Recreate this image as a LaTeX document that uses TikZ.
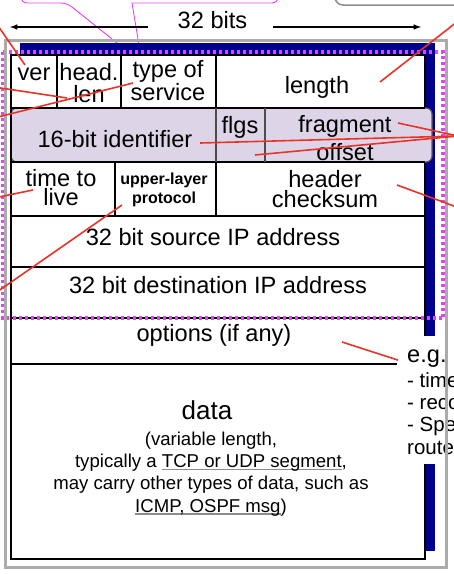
\documentclass[tikz,border=0pt]{standalone}
\usepackage{fontspec}
\setmainfont{Liberation Sans}
\usetikzlibrary{positioning}

\definecolor{navybar}{RGB}{0,0,140}
\definecolor{pinkdots}{RGB}{232,64,246}
\definecolor{callred}{RGB}{232,52,40}
\definecolor{lavrow}{RGB}{221,213,231}
\newcommand{\grayul}[1]{\setbox0\hbox{#1}\rlap{\color{black!45}\rule[-2.6pt]{\wd0}{1.2pt}}\box0}

\tikzset{
  field/.style={font=\fontsize{23.6}{#1}\selectfont, inner sep=0pt, anchor=base, align=center},
  field/.default=22,
  smallfield/.style={font=\fontsize{16}{18.5}\selectfont\bfseries, inner sep=0pt, anchor=base, align=center},
  note/.style={font=\fontsize{#1}{22.3}\selectfont, inner sep=0pt, anchor=base},
  note/.default=18.6,
  pointer/.style={callred, line width=1.6pt},
  cellline/.style={line width=2pt}
}

\begin{document}
\begin{tikzpicture}[x=1pt,y=-1pt,>=latex]
  \useasboundingbox (0,0) rectangle (454,574);
  \clip (0,0) rectangle (454,574);

  % callouts cut off at the top
  \draw[black!45, line width=1.5pt, rounded corners=8pt] (335,-30) -- (335,5) -- (480,5);
  \draw[pinkdots, line width=0.9pt] (21,-30) [rounded corners=6pt] -- (21,3) -- (67,3) [sharp corners] -- (142,63) -- (132,3) [rounded corners=6pt] -- (278,3) -- (278,-30);

  % width of a row
  \node[field] (bits) at (212.5,28) {32 bits};
  \coordinate (bitsL) at (10,27);
  \coordinate (bitsR) at (421,27);
  \draw[->, line width=1.5pt] ([xshift=-30pt,yshift=1pt]bits.base west) -- (bitsL);
  \draw[->, line width=1.5pt] ([xshift=26pt,yshift=1pt]bits.base east) -- (bitsR);

  % shadow and table
  \fill[navybar] (20,43) rectangle (435,551);
  \draw[cellline, fill=white] (11,55) rectangle (425,559);
  \draw[fill=lavrow, draw=black!65, line width=1.2pt, rounded corners=6pt] (11,108) rectangle (432,162);
  \draw[cellline] (11,55) -- (11,559);
  \draw[cellline] (11,108) -- (425,108);
  \draw[cellline] (11,162) -- (425,162);
  \draw[cellline] (11,216) -- (425,216);
  \draw[cellline] (11,267) -- (425,267);
  \draw[cellline] (11,318) -- (425,318);
  \draw[cellline] (11,364) -- (425,364);
  \draw[cellline] (57,55) -- (57,108);
  \draw[cellline] (121,55) -- (121,108);
  \draw[cellline] (216,55) -- (216,108);
  \draw[black!70, line width=1.5pt] (216,108) -- (216,162);
  \draw[black!70, line width=1.5pt] (265,108) -- (265,162);
  \draw[cellline] (115,162) -- (115,216);
  \draw[cellline] (216,162) -- (216,216);

  % header fields (multi-line nodes sit on their last line)
  \node[field] (ver) at (34,80) {ver};
  \node[field] (hlen) at (89,102) {head.\\len};
  \node[field=21] (tos) at (168,100) {type of\\service};
  \node[field] (len) at (317,93) {length};
  \node[field] (ident) at (115,147) {16-bit identifier};
  \node[field] (flgs) at (240,133) {flgs};
  \node[field=28] (frag) at (345,160) {fragment\\offset};
  \node[field=19] (ttl) at (61,205) {time to\\live};
  \node[smallfield] (proto) at (164,203) {upper-layer\\protocol};
  \node[field=19.5] (csum) at (325,207) {header\\checksum};
  \node[field] (src) at (213,245) {32 bit source IP address};
  \node[field] (dst) at (218,293) {32 bit destination IP address};
  \node[field] (opts) at (214,341) {options (if any)};
  \node[field, font=\fontsize{26}{26}\selectfont] (data) at (207,419) {data};
  \node[note, align=center] (dnote) at (211,512) {(variable length,\\typically a \grayul{TCP or UDP segment},\\may carry other types of data, such as\\\grayul{ICMP, OSPF msg})};

  % header fields inside the dotted box
  \draw[pinkdots, line width=3.2pt, dash pattern=on 3pt off 3pt] (2.5,52) rectangle (443,318);

  % options note
  \fill[white] (397,336) rectangle (470,464);
  \node[field, anchor=base west] (eg) at (407,362) {e.g.};
  \node[note=20.5, anchor=base west, align=left] (eglist) at (407,454) {- timestamp\\- record route\\- Specify list of\\routers to visit};

  \draw[black!33, line width=3pt] (5.5,40.5) rectangle (446.5,567);

  % pointers to labels off the slide
  \coordinate (verP) at (-6,20);
  \coordinate (hlenP) at (-6,87);
  \coordinate (tosP) at (-6,118);
  \coordinate (lenP) at (462,18);
  \coordinate (fragP) at (458,136);
  \coordinate (csumP) at (462,209);
  \coordinate (ttlP) at (-6,198);
  \coordinate (protoP) at (-6,294);
  \draw[pointer] (25,65) -- (verP);
  \draw[pointer] (67,98) -- (hlenP);
  \draw[pointer] (133,83) -- (tosP);
  \draw[pointer] (380,82) -- (lenP);
  \draw[pointer] (398,123) -- (fragP);
  \draw[pointer] (200,143) -- (fragP);
  \draw[pointer] (255,155) -- (fragP);
  \draw[pointer] (397,185) -- (csumP);
  \draw[pointer] (33,190) -- (ttlP);
  \draw[pointer] (122,205) -- (protoP);
  \draw[pointer] (342,342) -- ([xshift=-9pt,yshift=-2pt]eg.west);
\end{tikzpicture}
\end{document}
